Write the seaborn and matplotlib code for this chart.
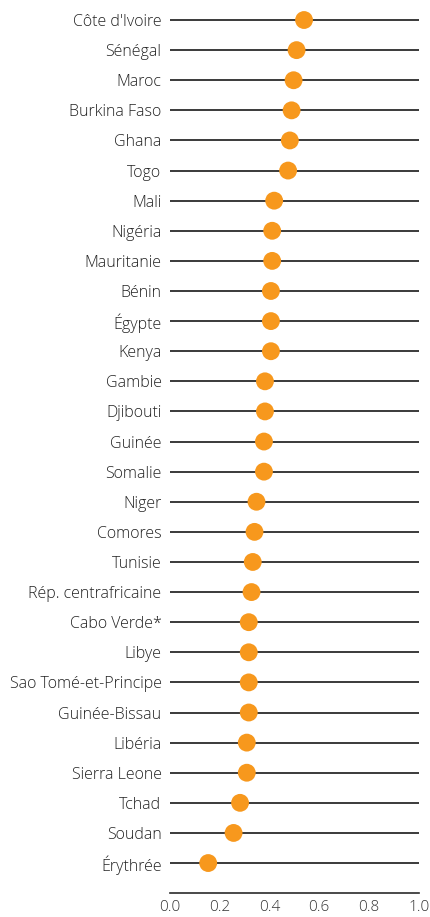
import numpy as np
import pandas as pd
import matplotlib
matplotlib.use('Agg')
import matplotlib.pyplot as plt
import seaborn as sns

countries = ["Côte d'Ivoire", 'Sénégal', 'Maroc', 'Burkina Faso', 'Ghana', 'Togo', 'Mali',
             'Nigéria', 'Mauritanie', 'Bénin', 'Égypte', 'Kenya', 'Gambie', 'Djibouti',
             'Guinée', 'Somalie', 'Niger', 'Comores', 'Tunisie', 'Rép. centrafricaine',
             'Cabo Verde*', 'Libye', 'Sao Tomé-et-Principe', 'Guinée-Bissau', 'Libéria',
             'Sierra Leone', 'Tchad', 'Soudan', 'Érythrée']
scores = [0.539, 0.509, 0.497, 0.489, 0.482, 0.475, 0.419,
          0.411, 0.411, 0.406, 0.406, 0.406, 0.382, 0.382,
          0.378, 0.378, 0.348, 0.340, 0.333, 0.328,
          0.317, 0.317, 0.317, 0.317, 0.309,
          0.309, 0.282, 0.256, 0.154]
xticks = [0.0, 0.2, 0.4, 0.6, 0.8, 1.0]

df = pd.DataFrame({'country': countries, 'score': scores})

sns.set_style('white')
plt.rcParams['font.family'] = ['Open Sans', 'DejaVu Sans']

fig = plt.figure(figsize=(4.3, 9.17), dpi=100)
ax = fig.add_axes([0.395, 0.026, 0.579, 0.974])

# background lines from 0 to 1 for every country
ax.hlines(y=np.arange(len(countries)), xmin=0, xmax=1, color='#2b2b2b', linewidth=1.3, zorder=1)
sns.scatterplot(data=df, x='score', y='country', color='#F7981D', s=165, edgecolor='none',
                zorder=3, ax=ax, legend=False)

ax.set_xlim(0, 1)
ax.set_ylim(len(countries), -0.665)
ax.set_xticks(xticks)
ax.set_xticklabels([f'{t:.1f}' for t in xticks], fontsize=11, color='#333333', fontweight='light')
ax.set_yticks(np.arange(len(countries)))
ax.set_yticklabels(countries, fontsize=11.5, color='#222222', fontweight='light')
ax.tick_params(axis='y', length=0, pad=6)
ax.tick_params(axis='x', direction='in', length=4, width=1, color='#2b2b2b', pad=5)
ax.set_xlabel('')
ax.set_ylabel('')
for s in ['left', 'right', 'top']:
    ax.spines[s].set_visible(False)
ax.spines['bottom'].set_color('#2b2b2b')
ax.spines['bottom'].set_linewidth(1.2)

fig.savefig('out.png', dpi=100)
